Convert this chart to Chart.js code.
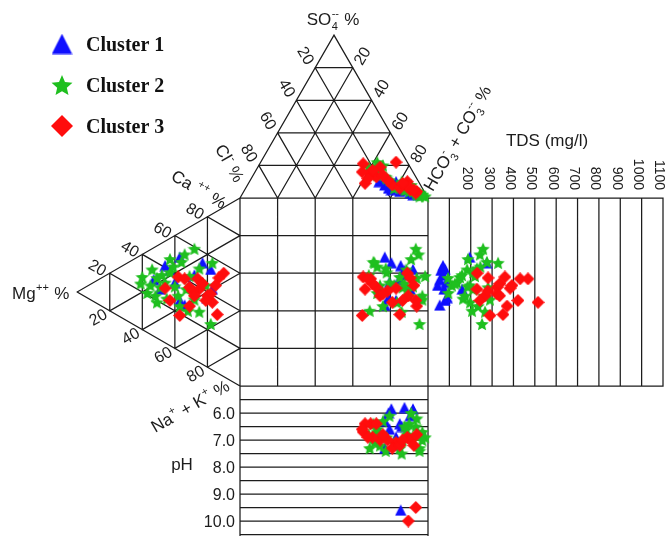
<!DOCTYPE html>
<html>
<head>
<meta charset="utf-8">
<script src="https://cdn.jsdelivr.net/npm/chart.js@4.4.1/dist/chart.umd.min.js"></script>
<style>
  html, body { margin: 0; padding: 0; background: #ffffff; overflow: hidden; }
  canvas { display: block; }
</style>
</head>
<body>
<canvas id="durov" width="668" height="536"></canvas>
<script>
// ---- Sample chemistry (percent of meq, TDS in mg/l) ----
const clusterNames = ['Cluster 1', 'Cluster 2', 'Cluster 3'];

const c1HCO3 = [73, 78, 83, 89, 78, 76, 85, 79, 69, 83, 75, 91, 71, 82];
const c1SO4  = [8, 5, 4, 3, 10, 6, 5, 7, 10, 6, 9, 2, 12, 7];
const c1Ca   = [50, 54, 30, 43, 27, 37, 40, 38, 27, 45, 35, 53, 26, 41];
const c1Mg   = [37, 23, 53, 17, 37, 20, 43, 31, 49, 28, 40, 18, 34, 46];
const c1TDS  = [195, 275, 55, 160, 80, 90, 60, 45, 75, 70, 85, 80, 55, 70];
const c1pH   = [6.3, 5.85, 6.4, 6.1, 6.9, 6.0, 5.8, 7.2, 6.7, 6.5, 6.6, 5.85, 7.3, 9.6];

const c2HCO3 = [92, 94, 64, 86, 81, 93, 72, 62, 90, 66, 95, 80, 66, 81, 94, 86, 82, 62, 74, 98, 79, 66, 88, 96, 59, 71, 85, 61, 87, 96];
const c2SO4  = [3, 2, 15, 5, 8, 2, 12, 18, 4, 14, 1, 7, 20, 10, 3, 6, 9, 22, 11, 1, 6, 17, 4, 2, 19, 13, 5, 16, 8, 2];
const c2Ca   = [59, 53, 57, 35, 28, 32, 39, 48, 33, 21, 24, 19, 24, 27, 24, 35, 28, 43, 32, 43, 43, 26, 29, 32, 35, 50, 24, 24, 46, 22];
const c2Mg   = [28, 34, 17, 54, 60, 51, 43, 36, 40, 57, 45, 51, 37, 25, 18, 33, 49, 41, 46, 31, 21, 55, 38, 28, 48, 25, 61, 32, 43, 52];
const c2TDS  = [258, 243, 328, 183, 150, 94, 211, 276, 185, 95, 164, 197, 234, 267, 253, 210, 281, 245, 136, 220, 195, 112, 173, 290, 159, 229, 126, 206, 187, 262];
const c2pH   = [6.5, 6.8, 7.1, 6.6, 7.3, 6.2, 6.9, 6.4, 7.0, 6.7, 7.4, 7.2, 6.3, 7.5, 7.3, 6.8, 7.0, 6.6, 6.1, 6.9, 7.1, 7.2, 6.4, 7.0, 6.8, 7.4, 6.5, 7.3, 6.0, 6.7];

const c3HCO3 = [55, 72, 62, 66, 62, 65, 77, 84, 88, 92, 82, 73, 62, 69, 62, 86, 92, 57, 82, 90];
const c3SO4  = [21, 22, 15, 13, 9, 19, 8, 10, 5, 4, 6, 11, 17, 14, 12, 7, 3, 16, 9, 5];
const c3Ca   = [39, 29, 44, 37, 39, 38, 36, 55, 51, 27, 31, 36, 43, 40, 40, 34, 35, 19, 24, 46];
const c3Mg   = [38, 46, 26, 31, 25, 20, 17, 10, 13, 31, 14, 29, 23, 18, 34, 28, 21, 37, 43, 15];
const c3TDS  = [360, 384, 431, 323, 229, 267, 515, 230, 281, 370, 351, 280, 337, 323, 468, 335, 421, 290, 243, 393];
const c3pH   = [6.7, 7.1, 6.4, 6.4, 6.4, 7.0, 7.3, 6.9, 7.0, 6.8, 7.2, 7.0, 6.9, 6.8, 6.9, 10.0, 9.5, 6.6, 7.0, 7.2];

// ---- Axis tick labels ----
const tdsTicks = [200, 300, 400, 500, 600, 700, 800, 900, 1000, 1100];
const phTicks  = ['6.0', '7.0', '8.0', '9.0', '10.0'];
const triTicks = [20, 40, 60, 80];

// ---- Diagram layout (in plot units) ----
const SQ = { l: 240, r: 428, t: 198, b: 386 };
const SIDE = SQ.r - SQ.l;
const TRI_H = SIDE * Math.sqrt(3) / 2;
const SO4_C = { x: (SQ.l + SQ.r) / 2, y: SQ.t - TRI_H };
const CL_C  = { x: SQ.l, y: SQ.t };
const HCO_C = { x: SQ.r, y: SQ.t };
const MG_C  = { x: SQ.l - TRI_H, y: (SQ.t + SQ.b) / 2 };
const CA_C  = { x: SQ.l, y: SQ.t };
const NA_C  = { x: SQ.l, y: SQ.b };
const TDS_RIGHT = 663, TDS_MAX = 1100;
const PH_TOP = 5.0, PH_UNIT = 27, PH_LAST = 10.5, FRAME_BOTTOM = 536;

function mix(a, b, c, wa, wb, wc) {
  return { x: a.x * wa + b.x * wb + c.x * wc, y: a.y * wa + b.y * wb + c.y * wc };
}
function anionPt(hco3, so4) {
  const h = hco3 / 100, s = so4 / 100;
  return mix(SO4_C, CL_C, HCO_C, s, 1 - h - s, h);
}
function cationPt(ca, mg) {
  const c = ca / 100, m = mg / 100;
  return mix(MG_C, CA_C, NA_C, m, c, 1 - c - m);
}
const tdsX = v => SQ.r + v / TDS_MAX * (TDS_RIGHT - SQ.r);
const phY = v => SQ.b + (v - PH_TOP) * PH_UNIT;

function clusterPoints(hco3, so4, ca, mg, tds, ph) {
  const anion = [], cation = [], square = [], tdsP = [], phP = [];
  for (let i = 0; i < hco3.length; i++) {
    const a = anionPt(hco3[i], so4[i]);
    const c = cationPt(ca[i], mg[i]);
    anion.push({ x: a.x, y: a.y });
    cation.push({ x: c.x, y: c.y });
    square.push({ x: a.x, y: c.y });
    tdsP.push({ x: tdsX(tds[i]), y: c.y });
    phP.push({ x: a.x, y: phY(ph[i]) });
  }
  return anion.concat(cation, square, tdsP, phP);
}

// ---- Markers ----
const BLUE = '#0f0fff', GREEN = '#1fbf1f', RED = '#ff0d0d';
function marker(shape, size, color) {
  const c = document.createElement('canvas');
  c.width = size; c.height = size;
  const g = c.getContext('2d');
  g.fillStyle = color;
  g.beginPath();
  const m = size / 2;
  if (shape === 'triangle') {
    g.moveTo(m, 0.3); g.lineTo(size - 0.3, size - 0.5); g.lineTo(0.3, size - 0.5);
  } else if (shape === 'diamond') {
    g.moveTo(m, 0); g.lineTo(size, m); g.lineTo(m, size); g.lineTo(0, m);
  } else {
    const cy = m + m * 0.1;
    for (let i = 0; i < 10; i++) {
      const r = i % 2 ? m * 0.46 : m;
      const a = -Math.PI / 2 + i * Math.PI / 5;
      g.lineTo(m + r * Math.cos(a), cy + r * Math.sin(a));
    }
  }
  g.closePath();
  g.fill();
  return c;
}
const markers = [marker('triangle', 12, BLUE), marker('star', 14, GREEN), marker('diamond', 13, RED)];
const legendMarkers = [marker('triangle', 21, BLUE), marker('star', 22, GREEN), marker('diamond', 22, RED)];

// ---- Frame, grid and labels ----
const INK = '#1c1c1c';
const SANS = '"Liberation Sans", Arial, Helvetica, sans-serif';
const SERIF = '"Liberation Serif", "Times New Roman", serif';

function drawRich(ctx, parts, x, y, angle, size, align) {
  const small = Math.round(size * 0.62);
  ctx.save();
  ctx.translate(x, y);
  ctx.rotate(angle);
  ctx.fillStyle = INK;
  ctx.textBaseline = 'alphabetic';
  ctx.textAlign = 'left';
  const widths = parts.map(p => {
    if (typeof p === 'string') { ctx.font = size + 'px ' + SANS; return ctx.measureText(p).width; }
    ctx.font = small + 'px ' + SANS;
    return Math.max(ctx.measureText(p.sub || '').width, ctx.measureText(p.sup || '').width) + 1;
  });
  const total = widths.reduce((a, b) => a + b, 0);
  let cx = align === 'center' ? -total / 2 : align === 'right' ? -total : 0;
  const base = size * 0.36;
  parts.forEach((p, i) => {
    if (typeof p === 'string') {
      ctx.font = size + 'px ' + SANS;
      ctx.fillText(p, cx, base);
    } else {
      ctx.font = small + 'px ' + SANS;
      if (p.sub) ctx.fillText(p.sub, cx + 0.5, base + size * 0.3);
      if (p.sup) ctx.fillText(p.sup, cx + 0.5, base - size * 0.45);
    }
    cx += widths[i];
  });
  ctx.restore();
}

const durovFrame = {
  id: 'durovFrame',
  beforeDatasetsDraw(chart) {
    const ctx = chart.ctx;
    const sx = chart.scales.x, sy = chart.scales.y;
    const P = p => [sx.getPixelForValue(p.x), sy.getPixelForValue(p.y)];
    const line = (a, b) => {
      const A = P(a), B = P(b);
      ctx.moveTo(A[0], A[1]); ctx.lineTo(B[0], B[1]);
    };

    ctx.save();
    ctx.strokeStyle = INK;
    ctx.lineWidth = 1.25;
    ctx.lineCap = 'square';
    ctx.beginPath();

    // ternary grids
    const ternary = (A, B, C) => {
      line(A, B); line(A, C); line(B, C);
      for (let k = 1; k < 5; k++) {
        const v = k / 5;
        line(mix(A, B, C, v, 1 - v, 0), mix(A, B, C, v, 0, 1 - v));
        line(mix(A, B, C, 1 - v, v, 0), mix(A, B, C, 0, v, 1 - v));
        line(mix(A, B, C, 1 - v, 0, v), mix(A, B, C, 0, 1 - v, v));
      }
    };
    ternary(SO4_C, CL_C, HCO_C);
    ternary(MG_C, CA_C, NA_C);

    // central square
    for (let k = 0; k <= 5; k++) {
      const x = SQ.l + SIDE * k / 5, y = SQ.t + SIDE * k / 5;
      line({ x, y: SQ.t }, { x, y: SQ.b });
      line({ x: SQ.l, y }, { x: SQ.r, y });
    }

    // TDS panel
    line({ x: SQ.r, y: SQ.t }, { x: TDS_RIGHT, y: SQ.t });
    line({ x: SQ.r, y: SQ.b }, { x: TDS_RIGHT, y: SQ.b });
    for (let v = 100; v <= TDS_MAX; v += 100) {
      line({ x: tdsX(v), y: SQ.t }, { x: tdsX(v), y: SQ.b });
    }

    // pH panel
    line({ x: SQ.l, y: SQ.b }, { x: SQ.l, y: FRAME_BOTTOM });
    line({ x: SQ.r, y: SQ.b }, { x: SQ.r, y: FRAME_BOTTOM });
    for (let v = PH_TOP + 0.5; v <= PH_LAST + 0.001; v += 0.5) {
      line({ x: SQ.l, y: phY(v) }, { x: SQ.r, y: phY(v) });
    }
    ctx.stroke();
    ctx.restore();

    // triangle tick labels
    const tickAt = (p, dx, dy, ang, txt) => {
      const q = P(p);
      drawRich(ctx, [String(txt)], q[0] + dx, q[1] + dy, ang, 16, 'center');
    };
    triTicks.forEach(t => {
      const v = t / 100;
      tickAt(mix(SO4_C, CL_C, HCO_C, 1 - v, v, 0), -9, -12.5, Math.PI / 3, t);
      tickAt(mix(SO4_C, CL_C, HCO_C, 1 - v, 0, v), 9, -12, -Math.PI / 3, t);
      tickAt(mix(MG_C, CA_C, NA_C, 1 - v, v, 0), -12, -6, Math.PI / 6, t);
      tickAt(mix(MG_C, CA_C, NA_C, 1 - v, 0, v), -12, 6, -Math.PI / 6, t);
    });

    // TDS tick labels (rotated, reading downward)
    tdsTicks.forEach(t => {
      const x = sx.getPixelForValue(tdsX(t)) - 2.5;
      ctx.save();
      ctx.translate(x, sy.getPixelForValue(SQ.t) - 8);
      ctx.rotate(Math.PI / 2);
      ctx.font = '14px ' + SANS;
      ctx.fillStyle = INK;
      ctx.textAlign = 'right';
      ctx.textBaseline = 'alphabetic';
      ctx.fillText(String(t), 0, 14 * 0.36);
      ctx.restore();
    });

    // pH tick labels
    phTicks.forEach(t => {
      drawRich(ctx, [t], 235, sy.getPixelForValue(phY(parseFloat(t))), 0, 16, 'right');
    });

    // axis titles
    drawRich(ctx, ['SO', { sub: '4', sup: '--' }, ' %'], 333, 19, 0, 17, 'center');
    drawRich(ctx, ['Cl', { sup: '-' }, ' %'], 230, 163, Math.PI / 3, 17, 'center');
    drawRich(ctx, ['HCO', { sub: '3', sup: '-' }, ' + CO', { sub: '3', sup: '--' }, ' %'], 457, 138, -Math.PI / 3, 17, 'center');
    drawRich(ctx, ['Ca ', { sup: '++' }, ' %'], 199, 189, Math.PI / 6, 17, 'center');
    drawRich(ctx, ['Mg', { sup: '++' }, ' %'], 12, 293, 0, 17, 'left');
    drawRich(ctx, ['Na', { sup: '+' }, ' + K', { sup: '+' }, ' %'], 190, 406, -Math.PI / 6, 17, 'center');
    drawRich(ctx, ['TDS (mg/l)'], 547, 140, 0, 17, 'center');
    drawRich(ctx, ['pH'], 182, 464, 0, 17, 'center');

    // legend
    const legendY = [44, 85, 126];
    clusterNames.forEach((name, i) => {
      const m = legendMarkers[i];
      ctx.drawImage(m, 62 - m.width / 2, legendY[i] - m.height / 2);
      ctx.save();
      ctx.font = 'bold 20px ' + SERIF;
      ctx.fillStyle = '#111';
      ctx.textBaseline = 'alphabetic';
      ctx.textAlign = 'left';
      ctx.fillText(name, 86, legendY[i] + 7);
      ctx.restore();
    });
  }
};

const series = [
  clusterPoints(c1HCO3, c1SO4, c1Ca, c1Mg, c1TDS, c1pH),
  clusterPoints(c2HCO3, c2SO4, c2Ca, c2Mg, c2TDS, c2pH),
  clusterPoints(c3HCO3, c3SO4, c3Ca, c3Mg, c3TDS, c3pH)
];

new Chart(document.getElementById('durov'), {
  type: 'scatter',
  data: {
    datasets: series.map((pts, i) => ({
      label: clusterNames[i],
      data: pts,
      pointStyle: markers[i],
      pointRadius: 7,
      order: 3 - i
    }))
  },
  options: {
    responsive: false,
    devicePixelRatio: 1,
    animation: false,
    events: [],
    layout: { padding: 0, autoPadding: false },
    scales: {
      x: { type: 'linear', min: 0, max: 668, display: false },
      y: { type: 'linear', min: 0, max: 536, reverse: true, display: false }
    },
    plugins: { legend: { display: false }, tooltip: { enabled: false } }
  },
  plugins: [durovFrame]
});
</script>
</body>
</html>
